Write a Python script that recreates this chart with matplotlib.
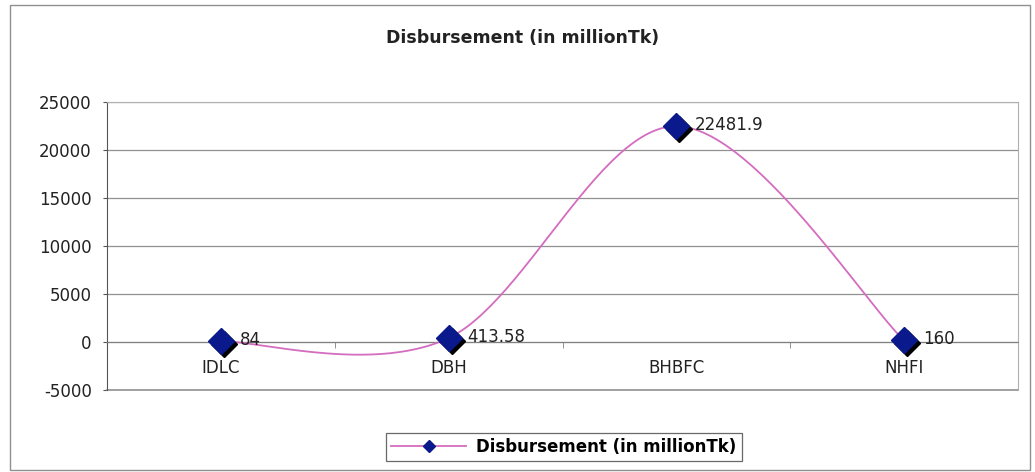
import numpy as np
import matplotlib
matplotlib.use("Agg")
import matplotlib.pyplot as plt
import matplotlib.transforms as mtransforms
from matplotlib.patches import Rectangle
from matplotlib.lines import Line2D

categories = ["IDLC", "DBH", "BHBFC", "NHFI"]
values = [84, 413.58, 22481.9, 160]
value_labels = ["84", "413.58", "22481.9", "160"]
yticks = [-5000, 0, 5000, 10000, 15000, 20000, 25000]
title = "Disbursement (in millionTk)"

plt.rcParams['font.family'] = ['DejaVu Sans']
FS = 12

fig = plt.figure(figsize=(10.35, 4.72), dpi=100)
ax = fig.add_axes([107/1035, 1-390/472, (1018-107)/1035, (390-102)/472])

x = np.arange(len(values), dtype=float)
y = np.array(values, dtype=float)

# Excel-like smoothed line (Catmull-Rom as cubic Bezier)
pts = np.column_stack([x, y])
curve = []
n = len(pts)
for i in range(n - 1):
    p0 = pts[i - 1] if i > 0 else pts[i]
    p1 = pts[i]
    p2 = pts[i + 1]
    p3 = pts[i + 2] if i + 2 < n else pts[i + 1]
    c1 = p1 + (p2 - p0) / 6.0
    c2 = p2 - (p3 - p1) / 6.0
    t = np.linspace(0, 1, 60)[:, None]
    seg = ((1 - t) ** 3) * p1 + 3 * ((1 - t) ** 2) * t * c1 + 3 * (1 - t) * t ** 2 * c2 + t ** 3 * p2
    curve.append(seg if i == 0 else seg[1:])
curve = np.vstack(curve)

ax.plot(curve[:, 0], curve[:, 1], color='#d46cc0', lw=1.3, zorder=3)

shadow = mtransforms.offset_copy(ax.transData, fig=fig, x=3, y=-3, units='dots')
ax.plot(x, y, linestyle='none', marker='D', ms=13.5, color='#000000', transform=shadow, zorder=4)
ax.plot(x, y, linestyle='none', marker='D', ms=13.5, color='#0a1a8c', mec='#0a1a8c', zorder=5)

for xi, yi, lab in zip(x, y, value_labels):
    ax.annotate(lab, (xi, yi), xytext=(13.5, 1), textcoords='offset points',
                ha='left', va='center', fontsize=FS, color='#222222', zorder=6)

ax.set_xlim(-0.5, len(values) - 0.5)
ax.set_ylim(-5000, 25000)
ax.set_yticks(yticks)
ax.set_yticklabels([str(v) for v in yticks], fontsize=FS, color='#222222')
ax.tick_params(axis='y', length=3, color='#555555', pad=8)
ax.yaxis.grid(True, color='#909090', lw=0.9)
ax.axhline(-5000, color='#909090', lw=1.2, clip_on=False, zorder=1)
ax.set_axisbelow(True)

ax.spines['bottom'].set_position(('data', 0))
ax.spines['bottom'].set_color('#808080')
ax.spines['left'].set_color('#555555')
ax.spines['right'].set_color('#b0b0b0')
ax.spines['top'].set_color('#b0b0b0')
ax.set_xticks(x)
ax.set_xticklabels(categories, fontsize=FS, color='#222222')
ax.tick_params(axis='x', length=0, pad=12)
ax.set_xticks(np.arange(0.5, len(values) - 1, 1.0), minor=True)
ax.tick_params(axis='x', which='minor', length=4, color='#808080')

fig.text(523/1035, 1 - 38/472, title, ha='center', va='center', fontsize=12.5, fontweight='bold', color='#222222')

handle = Line2D([], [], color='#d46cc0', lw=1.3, marker='D', ms=6, mfc='#0a1a8c', mec='#0a1a8c')
leg = fig.legend([handle], [title], loc='center', bbox_to_anchor=(564/1035, 1 - 447/472),
                 frameon=True, fancybox=False, edgecolor='#444444', handlelength=4.5,
                 prop={'weight': 'bold', 'size': 12}, borderpad=0.3, handletextpad=0.6)
leg.get_frame().set_linewidth(0.9)

fig.add_artist(Rectangle((10/1035, 1 - 470/472), 1020/1035, 465/472, transform=fig.transFigure,
                         fill=False, edgecolor='#909090', lw=1.0))

fig.savefig('out.png', dpi=100, facecolor='white')
